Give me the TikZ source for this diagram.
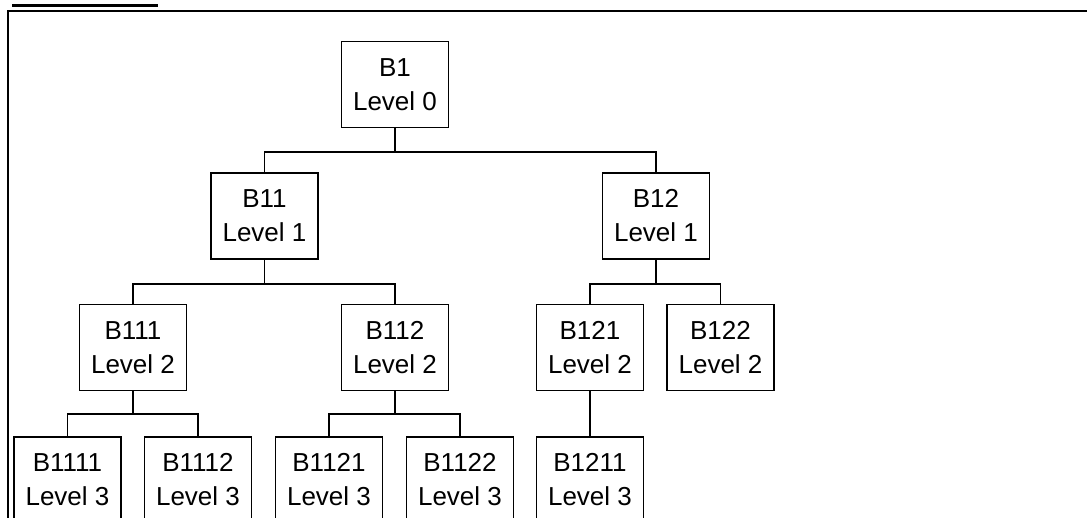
\documentclass[tikz,border=0pt]{standalone}
\usepackage{fontspec}
\setmainfont{Liberation Sans}
\usepackage{tikz}
\usetikzlibrary{positioning}

\begin{document}
\begin{tikzpicture}[x=1pt, y=-1pt,
  box/.style={draw, line width=1.6pt, minimum width=107pt, minimum height=86pt,
              inner sep=0pt, align=center, font=\fontsize{26}{34}\selectfont},
  link/.style={line width=1.6pt}
]
  \useasboundingbox (0,0) rectangle (1087,518);
  \clip (0,0) rectangle (1087,518);
  % frame and heading rule
  \draw[line width=2.2pt] (12,5.5) -- (158,5.5);
  \draw[line width=2.2pt] (8,520) -- (8,11) -- (1090,11);
  % level 0
  \node[box] (b1) at (395,84.5) {B1\\Level 0};
  % level 1
  \node[box] (b11) at (264.5,216) {B11\\Level 1};
  \node[box] (b12) at (656,216) {B12\\Level 1};
  % level 2
  \node[box] (b111) at (133,347.5) {B111\\Level 2};
  \node[box] (b112) at (395,347.5) {B112\\Level 2};
  \node[box] (b121) at (590,347.5) {B121\\Level 2};
  \node[box] (b122) at (720.5,347.5) {B122\\Level 2};
  % level 3
  \node[box] (b1111) at (67.5,480) {B1111\\Level 3};
  \node[box] (b1112) at (198,480) {B1112\\Level 3};
  \node[box] (b1121) at (329,480) {B1121\\Level 3};
  \node[box] (b1122) at (460,480) {B1122\\Level 3};
  \node[box] (b1211) at (590,480) {B1211\\Level 3};
  % connectors
  \draw[link] (b1.south) -- ++(0,24) -| (b11.north);
  \draw[link] (b1.south) -- ++(0,24) -| (b12.north);
  \draw[link] (b11.south) -- ++(0,24) -| (b111.north);
  \draw[link] (b11.south) -- ++(0,24) -| (b112.north);
  \draw[link] (b12.south) -- ++(0,24) -| (b121.north);
  \draw[link] (b12.south) -- ++(0,24) -| (b122.north);
  \draw[link] (b111.south) -- ++(0,22.5) -| (b1111.north);
  \draw[link] (b111.south) -- ++(0,22.5) -| (b1112.north);
  \draw[link] (b112.south) -- ++(0,22.5) -| (b1121.north);
  \draw[link] (b112.south) -- ++(0,22.5) -| (b1122.north);
  \draw[link] (b121) -- (b1211);
\end{tikzpicture}
\end{document}
